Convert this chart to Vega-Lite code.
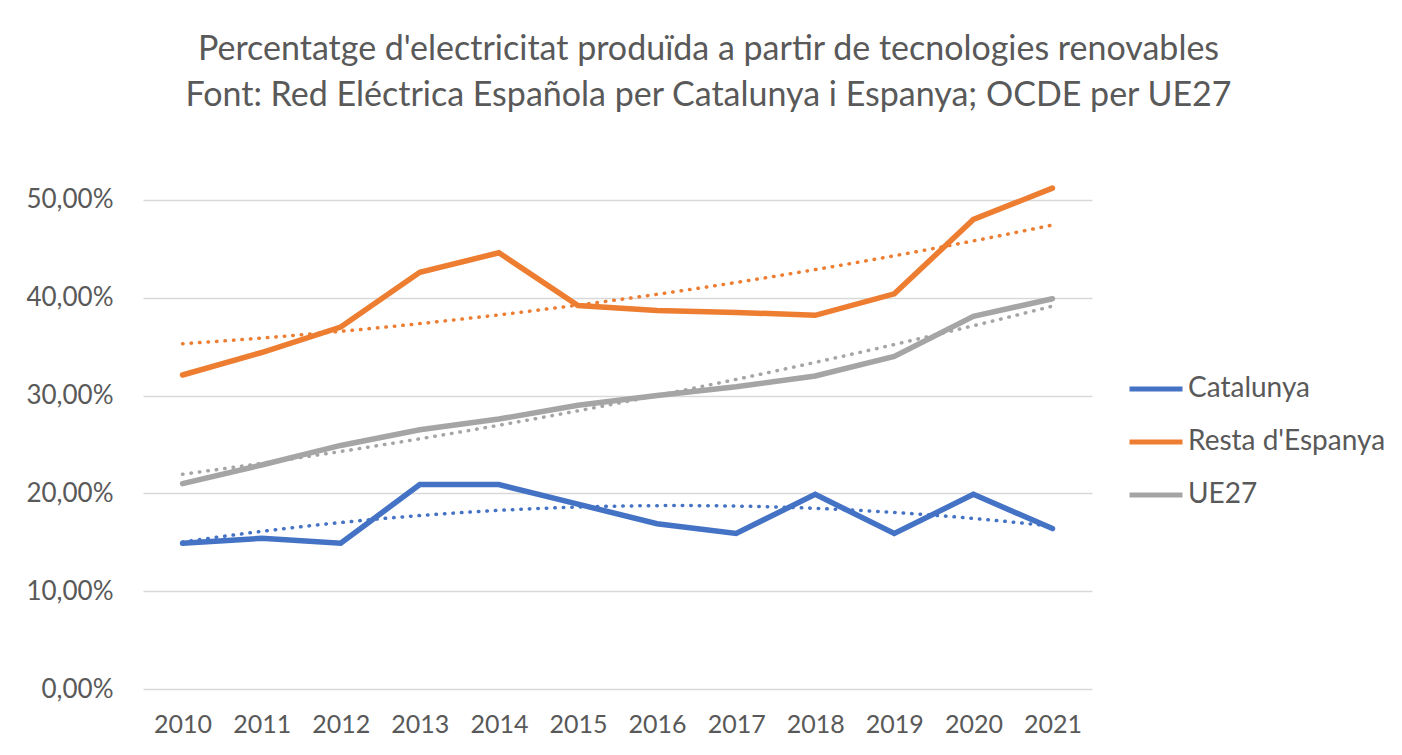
{
  "$schema": "https://vega.github.io/schema/vega-lite/v6.json",
  "width": 949,
  "height": 538,
  "autosize": {"type": "none"},
  "padding": {"left": 143, "top": 151, "right": 310, "bottom": 66},
  "background": "white",
  "config": {
    "locale": {"number": {"decimal": ",", "thousands": ".", "grouping": [3], "currency": ["", " €"]}},
    "font": "Lato",
    "view": {"stroke": null}
  },
  "title": {
    "text": ["Percentatge d'electricitat produïda a partir de tecnologies renovables", "Font: Red Eléctrica Española per Catalunya i Espanya; OCDE per UE27"],
    "anchor": "middle",
    "dx": 91,
    "offset": 4,
    "baseline": "bottom",
    "lineHeight": 46,
    "font": "Lato",
    "fontSize": 34,
    "fontWeight": "normal",
    "color": "#595959"
  },
  "data": {
    "values": [
      {"year": 2010, "serie": "Catalunya", "value": 0.149},
      {"year": 2011, "serie": "Catalunya", "value": 0.154},
      {"year": 2012, "serie": "Catalunya", "value": 0.149},
      {"year": 2013, "serie": "Catalunya", "value": 0.209},
      {"year": 2014, "serie": "Catalunya", "value": 0.209},
      {"year": 2015, "serie": "Catalunya", "value": 0.189},
      {"year": 2016, "serie": "Catalunya", "value": 0.169},
      {"year": 2017, "serie": "Catalunya", "value": 0.159},
      {"year": 2018, "serie": "Catalunya", "value": 0.199},
      {"year": 2019, "serie": "Catalunya", "value": 0.159},
      {"year": 2020, "serie": "Catalunya", "value": 0.199},
      {"year": 2021, "serie": "Catalunya", "value": 0.164},
      {"year": 2010, "serie": "Resta d'Espanya", "value": 0.321},
      {"year": 2011, "serie": "Resta d'Espanya", "value": 0.344},
      {"year": 2012, "serie": "Resta d'Espanya", "value": 0.370},
      {"year": 2013, "serie": "Resta d'Espanya", "value": 0.426},
      {"year": 2014, "serie": "Resta d'Espanya", "value": 0.446},
      {"year": 2015, "serie": "Resta d'Espanya", "value": 0.392},
      {"year": 2016, "serie": "Resta d'Espanya", "value": 0.387},
      {"year": 2017, "serie": "Resta d'Espanya", "value": 0.385},
      {"year": 2018, "serie": "Resta d'Espanya", "value": 0.382},
      {"year": 2019, "serie": "Resta d'Espanya", "value": 0.404},
      {"year": 2020, "serie": "Resta d'Espanya", "value": 0.480},
      {"year": 2021, "serie": "Resta d'Espanya", "value": 0.512},
      {"year": 2010, "serie": "UE27", "value": 0.210},
      {"year": 2011, "serie": "UE27", "value": 0.229},
      {"year": 2012, "serie": "UE27", "value": 0.249},
      {"year": 2013, "serie": "UE27", "value": 0.265},
      {"year": 2014, "serie": "UE27", "value": 0.276},
      {"year": 2015, "serie": "UE27", "value": 0.290},
      {"year": 2016, "serie": "UE27", "value": 0.300},
      {"year": 2017, "serie": "UE27", "value": 0.309},
      {"year": 2018, "serie": "UE27", "value": 0.320},
      {"year": 2019, "serie": "UE27", "value": 0.340},
      {"year": 2020, "serie": "UE27", "value": 0.381},
      {"year": 2021, "serie": "UE27", "value": 0.399}
    ]
  },
  "encoding": {
    "x": {
      "field": "year",
      "type": "quantitative",
      "scale": {"domain": [2009.5, 2021.5], "nice": false, "zero": false},
      "axis": {
        "title": null,
        "values": [2010, 2011, 2012, 2013, 2014, 2015, 2016, 2017, 2018, 2019, 2020, 2021],
        "format": "d",
        "grid": false,
        "domain": false,
        "ticks": false,
        "labelFont": "Lato",
        "labelFontSize": 25,
        "labelColor": "#595959",
        "labelPadding": 23,
        "labelFlush": false
      }
    },
    "y": {
      "field": "value",
      "type": "quantitative",
      "scale": {"domain": [0, 0.55], "nice": false},
      "axis": {
        "title": null,
        "values": [0, 0.1, 0.2, 0.3, 0.4, 0.5],
        "format": ".2%",
        "domain": false,
        "ticks": false,
        "gridColor": "#d9d9d9",
        "gridWidth": 1.5,
        "labelFont": "Lato",
        "labelFontSize": 26,
        "labelColor": "#595959",
        "labelPadding": 30
      }
    },
    "color": {
      "field": "serie",
      "type": "nominal",
      "scale": {
        "domain": ["Catalunya", "Resta d'Espanya", "UE27"],
        "range": ["#4472C4", "#ED7D31", "#A5A5A5"]
      },
      "legend": {
        "title": null,
        "orient": "none",
        "legendX": 984,
        "legendY": 209,
        "padding": 0,
        "symbolType": "stroke",
        "symbolSize": 2809,
        "symbolStrokeWidth": 5,
        "labelFont": "Lato",
        "labelFontSize": 28,
        "labelColor": "#595959",
        "labelOffset": 3,
        "rowPadding": 10,
        "labelLimit": 400
      }
    }
  },
  "layer": [
    {
      "transform": [
        {"regression": "value", "on": "year", "groupby": ["serie"], "method": "poly", "order": 2}
      ],
      "mark": {"type": "line", "strokeWidth": 3.5, "strokeDash": [0.5, 8], "strokeCap": "round", "clip": false}
    },
    {
      "mark": {"type": "line", "strokeWidth": 5.5, "strokeCap": "round", "strokeJoin": "miter", "clip": false}
    }
  ]
}
